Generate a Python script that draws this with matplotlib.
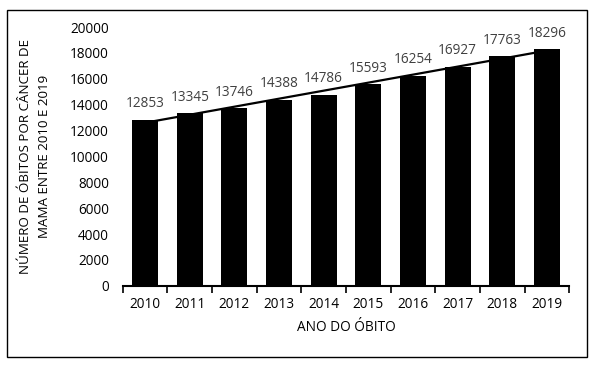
import numpy as np
import matplotlib
matplotlib.use("Agg")
import matplotlib.pyplot as plt
from matplotlib.patches import Rectangle

years = ["2010", "2011", "2012", "2013", "2014", "2015", "2016", "2017", "2018", "2019"]
deaths = [12853, 13345, 13746, 14388, 14786, 15593, 16254, 16927, 17763, 18296]

plt.rcParams['font.family'] = ['Open Sans', 'DejaVu Sans']
fs = 9.8

fig = plt.figure(figsize=(5.96, 3.66), dpi=100)
ax = fig.add_axes([0.206, 0.219, 0.749, 0.707])

x = np.arange(len(years))
ax.bar(x, deaths, width=0.58, color="black", zorder=3)

# linear trendline (like excel)
coef = np.polyfit(x, deaths, 1)
ax.plot(x, np.polyval(coef, x), color="black", lw=1.6, zorder=2)

for xi, v in zip(x, deaths):
    ax.text(xi, v + 650, str(v), ha="center", va="bottom", fontsize=fs, color="#404040")

ax.set_xlim(-0.5, len(years) - 0.5)
ax.set_ylim(0, 20000)
ax.set_yticks(range(0, 20001, 2000))
ax.set_xticks(x)
ax.set_xticklabels(years)
ax.set_xticks(np.arange(-0.5, len(years), 1), minor=True)
ax.tick_params(axis="x", which="major", length=0, pad=8, labelsize=fs)
ax.tick_params(axis="x", which="minor", length=5, width=1.2, direction="out")
ax.tick_params(axis="y", length=0, pad=10, labelsize=fs)

for s in ["top", "right", "left"]:
    ax.spines[s].set_visible(False)
ax.spines["bottom"].set_linewidth(1.5)

ax.set_xlabel("ANO DO ÓBITO", fontsize=fs, labelpad=6)
ax.set_ylabel("NÚMERO DE ÓBITOS POR CÂNCER DE\nMAMA ENTRE 2010 E 2019", fontsize=9.6,
              labelpad=14, linespacing=1.6)

fig.patches.append(Rectangle((7 / 596, 1 - 357 / 366), 580 / 596, 347 / 366,
                             transform=fig.transFigure, fill=False, edgecolor="black", lw=1))

fig.savefig("out.png", dpi=100)
